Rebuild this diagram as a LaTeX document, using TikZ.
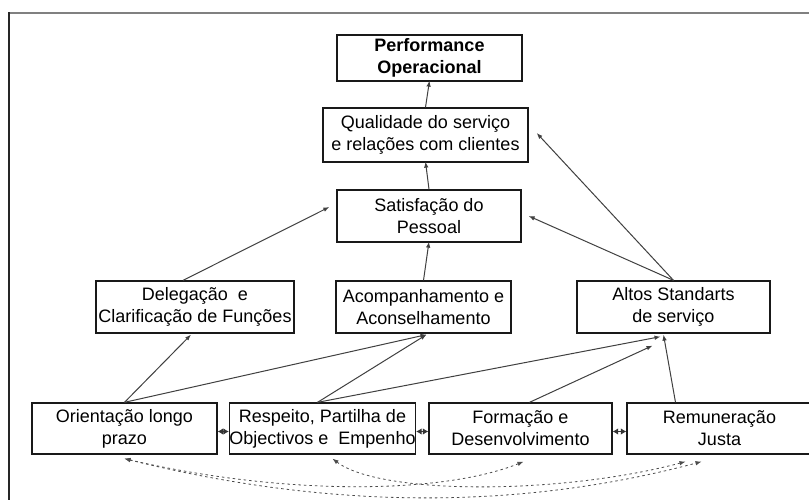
\documentclass[tikz,border=0pt]{standalone}
\usepackage{fontspec}
\setmainfont{Liberation Sans}
\usetikzlibrary{arrows.meta,calc}
\begin{document}
\begin{tikzpicture}[x=1pt,y=-1pt,
  box/.style={draw=black!90, line width=1.3pt, inner sep=0pt, align=center,
    font=\fontsize{18}{22}\selectfont, minimum height=51pt},
  conn/.style={draw=black!75, line width=1pt, -{Latex[length=6pt,width=4.5pt]}},
  twoway/.style={draw=black!80, line width=1pt, {Latex[length=5.5pt,width=6.5pt]}-{Latex[length=5.5pt,width=6.5pt]}},
  dotconn/.style={draw=black!70, line width=0.8pt, dash pattern=on 2.5pt off 3pt,
    {Latex[length=6pt,width=4.5pt]}-{Latex[length=6pt,width=4.5pt]}}]
\useasboundingbox (0,0) rectangle (809,500);
\fill[white] (0,0) rectangle (809,500);
% frame
\draw[draw=black!50, line width=1.5pt] (9,13) -- (809,13);
\draw[draw=black!85, line width=1.8pt] (9,12.3) -- (9,500);
% nodes
\node[box, minimum width=185pt, minimum height=46pt, font=\fontsize{18}{22}\selectfont\bfseries] (perf) at (429.5,58) {Performance\\Operacional};
\node[box, minimum width=205pt, minimum height=54pt] (qual) at (425.5,135) {Qualidade do serviço\\e relações com clientes};
\node[box, minimum width=184pt, minimum height=52pt] (sat) at (429,216) {Satisfação do\\Pessoal};
\node[box, minimum width=198pt, minimum height=52pt] (deleg) at (195,307) {Delegação~ e\\Clarificação de Funções};
\node[box, minimum width=175pt, minimum height=52pt] (acomp) at (423.5,307) {Acompanhamento e\\Aconselhamento};
\node[box, minimum width=193pt, minimum height=52pt] (altos) at (673.5,307) {Altos Standarts\\de serviço};
\node[box, minimum width=185pt] (orient) at (124.5,428.5) {Orientação longo\\prazo};
\node[box, minimum width=185pt] (resp) at (322.5,428.5) {Respeito, Partilha de\\Objectivos e~ Empenho};
\node[box, minimum width=183pt] (form) at (520.5,428.5) {Formação e\\Desenvolvimento};
\node[box, minimum width=185pt] (remun) at (719.5,428.5) {Remuneração\\Justa};
% vertical chain
\draw[conn] (qual.north) -- ([yshift=1pt]perf.south);
\draw[conn] (sat.north) -- ([yshift=1pt]qual.south);
\draw[conn] (acomp.north) -- ([yshift=1pt]sat.south);
% to satisfaction and quality
\draw[conn] ([xshift=-12pt]deleg.north) -- ([xshift=-7pt,yshift=9pt]sat.west);
\draw[conn] (altos.north) -- ([xshift=7pt]sat.east);
\draw[conn] (altos.north) -- ([xshift=8pt,yshift=2pt]qual.east);
% bottom row to middle row
\draw[conn] (orient.north) -- ([xshift=-4pt,yshift=-1pt]deleg.south);
\draw[conn] (orient.north) -- ([xshift=3pt,yshift=-1pt]acomp.south);
\draw[conn] ([xshift=-5pt]resp.north) -- ([xshift=3pt,yshift=-1pt]acomp.south);
\draw[conn] ([xshift=-5pt]resp.north) -- ([xshift=-13pt,yshift=-3pt]altos.south);
\draw[conn] ([xshift=9pt]form.north) -- ([xshift=-21pt,yshift=-12pt]altos.south);
\draw[conn] ([xshift=-44pt]remun.north) -- ([xshift=-10pt,yshift=-1pt]altos.south);
% two-way between bottom boxes
\draw[twoway] ([yshift=-3pt]orient.east) -- ([yshift=-3pt]resp.west);
\draw[twoway] ([yshift=-3pt]resp.east) -- ([yshift=-3pt]form.west);
\draw[twoway] ([yshift=-3pt]form.east) -- ([yshift=-3pt]remun.west);
% dashed curves
\draw[dotconn] ([yshift=-4pt]orient.south) .. controls (330,510) and (520,510) .. ([xshift=-18pt,yshift=-7pt]remun.south);
\draw[dotconn] ([yshift=-4pt]orient.south) .. controls (280,495) and (440,495) .. ([xshift=3pt,yshift=-7pt]form.south);
\draw[dotconn] ([xshift=10pt,yshift=-4pt]resp.south) .. controls (380,495) and (560,495) .. ([xshift=-34pt,yshift=-7pt]remun.south);
\end{tikzpicture}
\end{document}
